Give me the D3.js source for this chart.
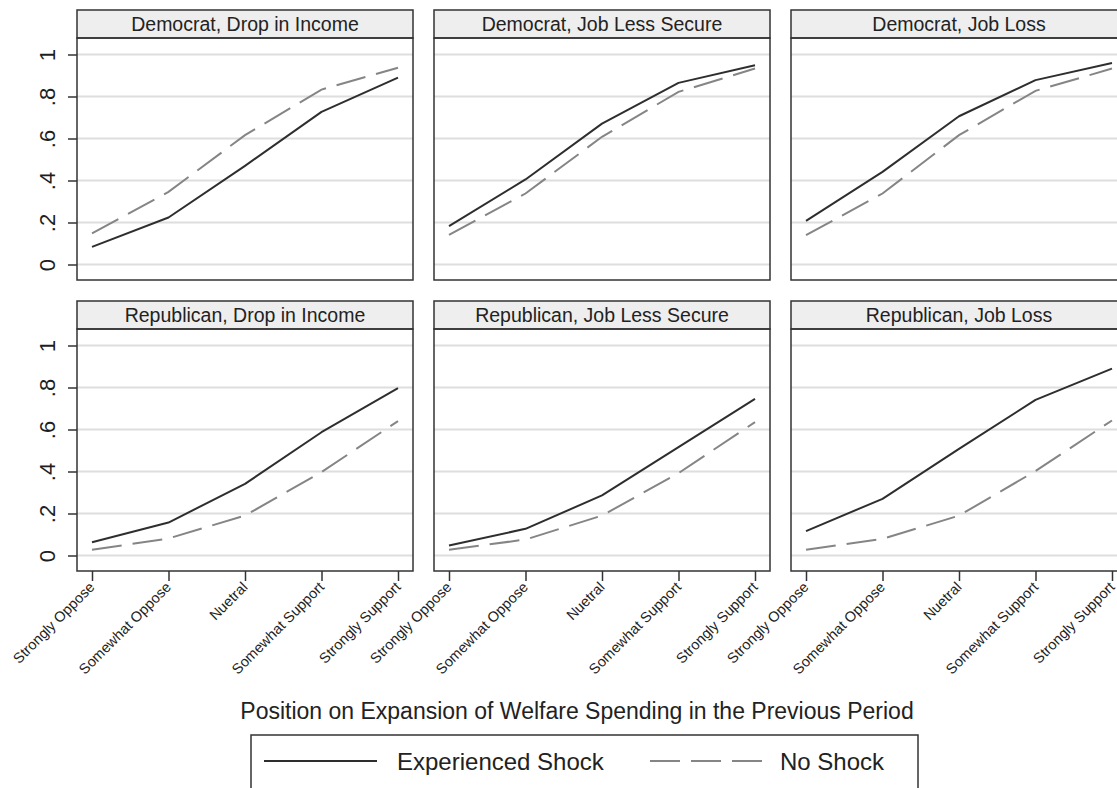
<!DOCTYPE html>
<html>
<head>
<meta charset="utf-8">
<script src="https://cdn.jsdelivr.net/npm/d3@7"></script>
<style>
  html, body { margin: 0; padding: 0; background: #fff; }
  svg { display: block; font-family: "Liberation Sans", Arial, Helvetica, sans-serif; }
</style>
</head>
<body>
<svg id="chart" width="1117" height="788"></svg>
<script>
// Response categories on the x axis
const categories = ["Strongly Oppose", "Somewhat Oppose", "Nuetral", "Somewhat Support", "Strongly Support"];

// Panel titles, in row order
const panelTitles = [
  "Democrat, Drop in Income", "Democrat, Job Less Secure", "Democrat, Job Loss",
  "Republican, Drop in Income", "Republican, Job Less Secure", "Republican, Job Loss"
];

// Predicted probabilities, one array per panel
const experiencedShock = [
  [0.084, 0.224, 0.470, 0.727, 0.890],
  [0.183, 0.405, 0.671, 0.865, 0.949],
  [0.208, 0.441, 0.706, 0.878, 0.960],
  [0.063, 0.157, 0.341, 0.587, 0.797],
  [0.048, 0.127, 0.286, 0.516, 0.746],
  [0.116, 0.270, 0.508, 0.741, 0.890]
];
const noShock = [
  [0.148, 0.346, 0.616, 0.833, 0.937],
  [0.141, 0.338, 0.608, 0.822, 0.933],
  [0.140, 0.338, 0.616, 0.827, 0.933],
  [0.027, 0.081, 0.190, 0.397, 0.640],
  [0.027, 0.076, 0.190, 0.392, 0.635],
  [0.027, 0.079, 0.190, 0.402, 0.643]
];

const yTicks = [0, 0.2, 0.4, 0.6, 0.8, 1];
const yTickLabels = ["0", ".2", ".4", ".6", ".8", "1"];

const xTitle = "Position on Expansion of Welfare Spending in the Previous Period";
const legendLabels = ["Experienced Shock", "No Shock"];

// Layout
const colLeft = [77, 434, 791];
const panelW = 336;
const rowTop = [10, 301];       // top of header strip
const headerH = 28;
const plotH = 242;

const solidColor = "#2e2e2e";
const dashColor = "#858585";
const dashPattern = "30,11";

const svg = d3.select("#chart");

const x = d3.scalePoint().domain(categories);
const y = d3.scaleLinear().domain([0, 1]);

panelTitles.forEach((title, i) => {
  const row = Math.floor(i / 3), col = i % 3;
  const left = colLeft[col];
  const headTop = rowTop[row];
  const plotTop = headTop + headerH;
  const plotBottom = plotTop + plotH;

  const xs = x.copy().range([left + 15, left + panelW - 15]);
  const ys = y.copy().range([plotBottom - 15.5, plotTop + 16.5]);

  const g = svg.append("g");

  // header strip
  g.append("rect")
    .attr("x", left).attr("y", headTop)
    .attr("width", panelW).attr("height", headerH)
    .attr("fill", "#eeeeee").attr("stroke", "#333").attr("stroke-width", 1.5);
  g.append("text")
    .attr("x", left + panelW / 2).attr("y", headTop + headerH / 2 + 7)
    .attr("text-anchor", "middle")
    .style("font-size", "19.5px").attr("fill", "#222")
    .text(title);

  // gridlines
  g.append("g").selectAll("line").data(yTicks).join("line")
    .attr("x1", left).attr("x2", left + panelW)
    .attr("y1", d => ys(d)).attr("y2", d => ys(d))
    .attr("stroke", "#dedede").attr("stroke-width", 2);

  // lines
  const line = d3.line().x((d, k) => xs(categories[k])).y(d => ys(d));
  g.append("path").datum(noShock[i])
    .attr("d", line).attr("fill", "none")
    .attr("stroke", dashColor).attr("stroke-width", 2)
    .attr("stroke-dasharray", dashPattern);
  g.append("path").datum(experiencedShock[i])
    .attr("d", line).attr("fill", "none")
    .attr("stroke", solidColor).attr("stroke-width", 2)
    .attr("stroke-linejoin", "round");

  // panel frame
  g.append("rect")
    .attr("x", left).attr("y", plotTop)
    .attr("width", panelW).attr("height", plotH)
    .attr("fill", "none").attr("stroke", "#333").attr("stroke-width", 1.5);

  // y axis on the first column
  if (col === 0) {
    const ya = g.append("g")
      .attr("transform", `translate(${left},0)`)
      .call(d3.axisLeft(ys).tickValues(yTicks).tickSize(9)
        .tickFormat((d, k) => yTickLabels[k]));
    ya.attr("font-size", null).attr("font-family", null);
    ya.select(".domain").remove();
    ya.selectAll(".tick line").attr("stroke", "#333").attr("stroke-width", 1.5);
    ya.selectAll(".tick text")
      .style("font-size", "22px").attr("fill", "#1e1e1e")
      .attr("x", null).attr("dy", null)
      .attr("text-anchor", "middle")
      .attr("transform", "translate(-22,0) rotate(-90)");
  }

  // x axis on the bottom row
  if (row === 1) {
    const xa = g.append("g")
      .attr("transform", `translate(0,${plotBottom})`)
      .call(d3.axisBottom(xs).tickSize(10));
    xa.attr("font-size", null).attr("font-family", null);
    xa.select(".domain").remove();
    xa.selectAll(".tick line").attr("stroke", "#333").attr("stroke-width", 1.5);
    xa.selectAll(".tick text")
      .style("font-size", "14.5px").attr("fill", "#222")
      .attr("y", null).attr("dy", null)
      .attr("text-anchor", "end")
      .attr("transform", "translate(3,17) rotate(-45)");
  }
});

// x axis title
svg.append("text")
  .attr("x", 577).attr("y", 719)
  .attr("text-anchor", "middle")
  .style("font-size", "23px").attr("fill", "#222")
  .text(xTitle);

// legend
const lg = svg.append("g");
lg.append("rect")
  .attr("x", 251).attr("y", 735).attr("width", 667).attr("height", 70)
  .attr("fill", "none").attr("stroke", "#333").attr("stroke-width", 1.5);
lg.append("line")
  .attr("x1", 264).attr("x2", 377).attr("y1", 761).attr("y2", 761)
  .attr("stroke", solidColor).attr("stroke-width", 2);
lg.append("text")
  .attr("x", 397).attr("y", 770)
  .style("font-size", "24px").attr("fill", "#222")
  .text(legendLabels[0]);
lg.append("line")
  .attr("x1", 650).attr("x2", 762).attr("y1", 761).attr("y2", 761)
  .attr("stroke", dashColor).attr("stroke-width", 2)
  .attr("stroke-dasharray", dashPattern);
lg.append("text")
  .attr("x", 780).attr("y", 770)
  .style("font-size", "24px").attr("fill", "#222")
  .text(legendLabels[1]);
</script>
</body>
</html>
